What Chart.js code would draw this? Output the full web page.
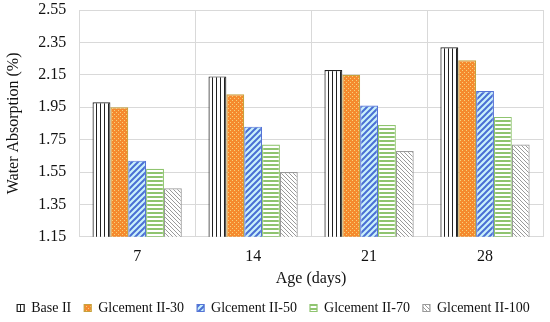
<!DOCTYPE html>
<html>
<head>
<meta charset="utf-8">
<script src="https://cdn.jsdelivr.net/npm/chart.js@4"></script>
<style>
  html, body { margin: 0; padding: 0; background: #fff; }
  #wrap { width: 550px; height: 322px; }
</style>
</head>
<body>
<div id="wrap"><canvas id="chart" width="550" height="322"></canvas></div>
<script>
// --- data ---
const ages = ['7', '14', '21', '28'];
const seriesNames = ['Base II', 'Glcement II-30', 'Glcement II-50', 'Glcement II-70', 'Glcement II-100'];
const baseII = [1.98, 2.14, 2.18, 2.32];
const gl30 = [1.95, 2.03, 2.15, 2.24];
const gl50 = [1.62, 1.83, 1.96, 2.05];
const gl70 = [1.57, 1.72, 1.84, 1.89];
const gl100 = [1.45, 1.55, 1.68, 1.72];
const yTicks = [1.15, 1.35, 1.55, 1.75, 1.95, 2.15, 2.35, 2.55];

// --- pattern helper ---
function makePattern(size, bg, draw) {
    const c = document.createElement('canvas');
    c.width = size; c.height = size;
    const g = c.getContext('2d');
    g.fillStyle = bg;
    g.fillRect(0, 0, size, size);
    draw(g, size);
    return c.getContext('2d').createPattern(c, 'repeat');
}

const ctx = document.getElementById('chart').getContext('2d');

const vertLines = makePattern(4, '#ffffff', (g) => {
    g.fillStyle = '#222';
    g.fillRect(0, 0, 1, 4);
});
const dots = makePattern(4, '#f58a2e', (g) => {
    g.fillStyle = '#f6d27a';
    g.fillRect(0, 0, 1, 1);
    g.fillRect(2, 2, 1, 1);
});
const diagBlue = makePattern(6, '#c9f1fb', (g, s) => {
    g.strokeStyle = '#4a6fd4';
    g.lineWidth = 2;
    g.beginPath();
    g.moveTo(-1, s + 1); g.lineTo(s + 1, -1);
    g.moveTo(-1, 1); g.lineTo(1, -1);
    g.moveTo(s - 1, s + 1); g.lineTo(s + 1, s - 1);
    g.stroke();
});
const horizGreen = makePattern(4, '#ffffff', (g) => {
    g.fillStyle = '#8fc46f';
    g.fillRect(0, 0, 4, 2);
});
const diagGray = makePattern(4, '#ffffff', (g, s) => {
    g.strokeStyle = '#9a9a9a';
    g.lineWidth = 1;
    g.beginPath();
    g.moveTo(-1, -1); g.lineTo(s + 1, s + 1);
    g.moveTo(s - 1, -1); g.lineTo(s + 1, 1);
    g.moveTo(-1, s - 1); g.lineTo(1, s + 1);
    g.stroke();
});

const values = [baseII, gl30, gl50, gl70, gl100];
const fills = [vertLines, dots, diagBlue, horizGreen, diagGray];
const borders = ['#222222', '#c7a13c', '#5574d6', '#8fc46f', '#9a9a9a'];

const font = "'Liberation Serif', 'Times New Roman', serif";

new Chart(ctx, {
    type: 'bar',
    data: {
        labels: ages,
        datasets: seriesNames.map((name, i) => ({
            label: name,
            data: values[i],
            backgroundColor: fills[i],
            borderColor: borders[i],
            borderWidth: 1.2,
            borderSkipped: 'bottom',
            barPercentage: 1.0,
            categoryPercentage: 0.77
        }))
    },
    options: {
        responsive: false,
        animation: false,
        layout: { padding: { top: 10, right: 7, left: 4, bottom: -3 } },
        plugins: {
            tooltip: { enabled: false },
            legend: {
                position: 'bottom',
                labels: {
                    color: '#111',
                    font: { family: font, size: 14 },
                    boxWidth: 7,
                    boxHeight: 7,
                    padding: 13
                }
            }
        },
        scales: {
            x: {
                grid: { color: '#d9d9d9', offset: true, drawTicks: false },
                border: { color: '#d9d9d9' },
                ticks: { color: '#111', font: { family: font, size: 16, lineHeight: 1 }, padding: 12 },
                title: { display: true, text: 'Age (days)', color: '#111', font: { family: font, size: 16, lineHeight: 1.2 }, padding: { top: -8, bottom: 0 } }
            },
            y: {
                min: yTicks[0],
                max: yTicks[yTicks.length - 1],
                afterBuildTicks: (axis) => { axis.ticks = yTicks.map(v => ({ value: v })); },
                // tick padding also pads the top of the plot; drop that part
                afterFit: (axis) => { axis.paddingTop = 8; axis.paddingBottom = 8; },
                grid: { color: '#d9d9d9', drawTicks: false },
                border: { color: '#d9d9d9' },
                ticks: {
                    color: '#111',
                    font: { family: font, size: 16, lineHeight: 1 },
                    padding: 13,
                    callback: (v) => Number(v).toFixed(2)
                },
                title: { display: true, text: 'Water Absorption (%)', color: '#111', font: { family: font, size: 16 }, padding: { top: 0, bottom: 2 } }
            }
        }
    }
});
</script>
</body>
</html>
